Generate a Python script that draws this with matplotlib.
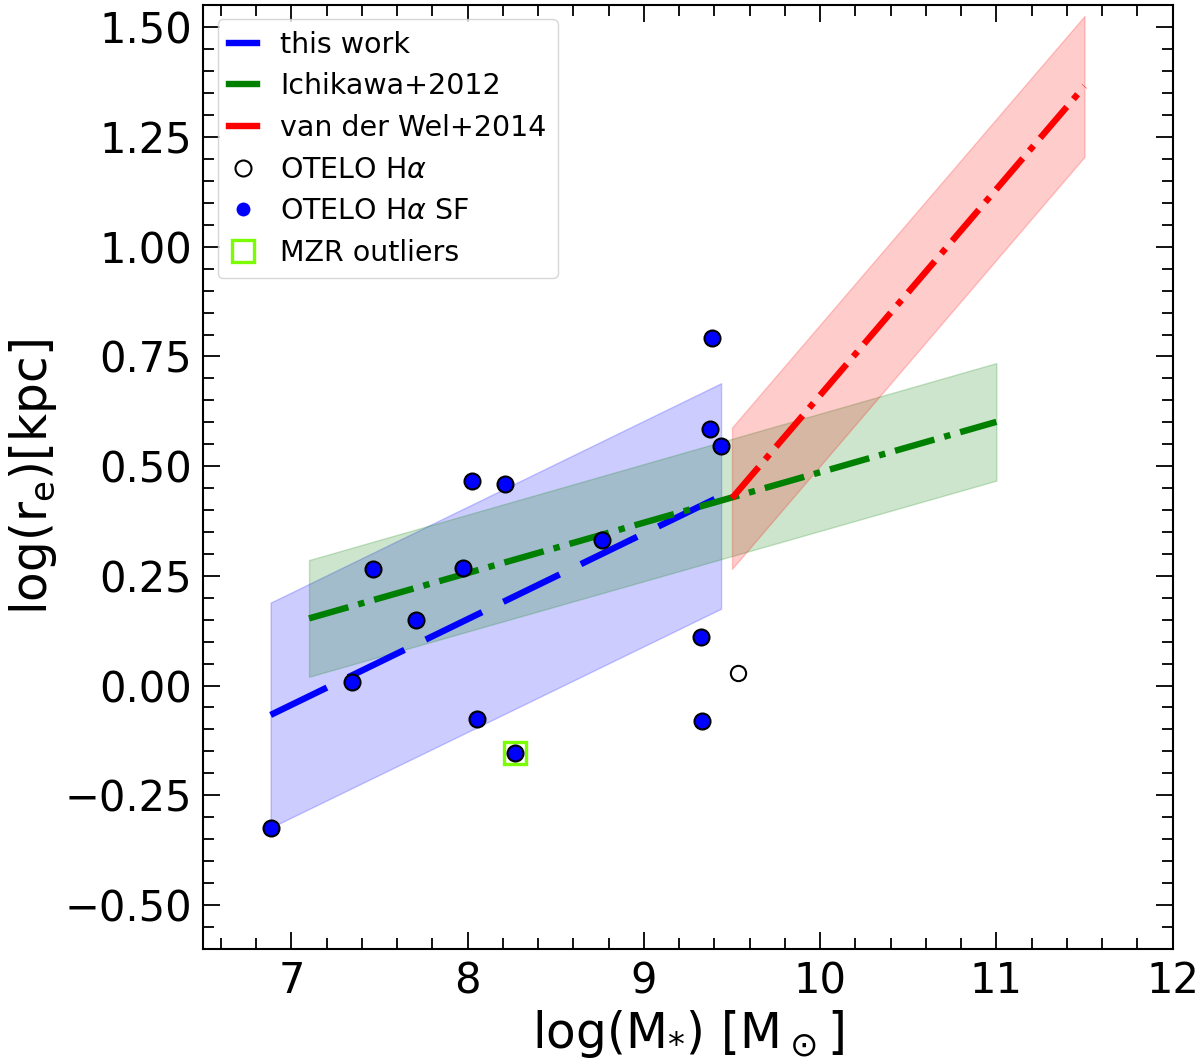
import matplotlib
matplotlib.use("Agg")
import matplotlib.pyplot as plt
from matplotlib.lines import Line2D
from matplotlib.ticker import MultipleLocator, AutoMinorLocator

# OTELO H-alpha star-forming sample: log(M*) and log(r_e)
sf_logm = [6.882, 7.344, 7.463, 7.707, 7.971, 8.027, 8.051, 8.212, 8.269,
           8.762, 9.324, 9.328, 9.386, 9.375, 9.438]
sf_logre = [-0.324, 0.007, 0.266, 0.150, 0.269, 0.467, -0.076, 0.460, -0.153,
            0.332, 0.111, -0.080, 0.793, 0.585, 0.547]
# non-SF OTELO H-alpha source
nsf_logm = [9.532]
nsf_logre = [0.029]
# MZR outliers
mzr_logm = [8.269]
mzr_logre = [-0.153]

# relations (end points) and their scatter bands
tw_x = [6.882, 9.438]
tw_y = [-0.067, 0.432]
tw_lo = [-0.324, 0.175]
tw_hi = [0.189, 0.689]

ich_x = [7.1, 11.0]
ich_y = [0.153, 0.601]
ich_lo = [0.020, 0.467]
ich_hi = [0.286, 0.735]

vdw_x = [9.5, 11.5]
vdw_y = [0.427, 1.366]
vdw_lo = [0.266, 1.205]
vdw_hi = [0.588, 1.526]

fig = plt.figure(figsize=(12, 10.63), dpi=100)
ax = fig.add_axes([0.1694, 0.1070, 0.8078, 0.8883])

ax.fill_between(tw_x, tw_lo, tw_hi, color="blue", alpha=0.2, lw=1)
ax.fill_between(ich_x, ich_lo, ich_hi, color="green", alpha=0.2, lw=1)
ax.fill_between(vdw_x, vdw_lo, vdw_hi, color="red", alpha=0.2, lw=1)

ax.plot(tw_x, tw_y, color="blue", lw=4.6, ls=(0, (9.8, 3.7)))
ax.plot(ich_x, ich_y, color="green", lw=4.6, ls="-.")
ax.plot(vdw_x, vdw_y, color="red", lw=4.6, ls="-.")

ax.plot(mzr_logm, mzr_logre, ls="none", marker="s", ms=15.6, mfc="none",
        mec="#7CFC00", mew=2.4)
ax.plot(nsf_logm, nsf_logre, ls="none", marker="o", ms=11, mfc="none",
        mec="k", mew=1.5)
ax.plot(sf_logm, sf_logre, ls="none", marker="o", ms=11.5, mfc="blue",
        mec="k", mew=1.5)

ax.set_xlim(6.5, 12)
ax.set_ylim(-0.601, 1.551)
ax.xaxis.set_major_locator(MultipleLocator(1))
ax.yaxis.set_major_locator(MultipleLocator(0.25))
ax.xaxis.set_minor_locator(AutoMinorLocator())
ax.yaxis.set_minor_locator(AutoMinorLocator())
ax.tick_params(which="both", direction="in", top=True, right=True, width=1.3)
ax.tick_params(which="major", length=12, labelsize=30, pad=8)
ax.tick_params(which="minor", length=7.7)
for s in ax.spines.values():
    s.set_linewidth(1.5)

ax.set_xlabel(r"log(M$_{*}$) [M$\,_{\odot}\,$]", fontsize=35)
ax.set_ylabel(r"log(r$_{\rm e}$)[kpc]", fontsize=35)

handles = [
    Line2D([], [], color="blue", lw=4.6),
    Line2D([], [], color="green", lw=4.6),
    Line2D([], [], color="red", lw=4.6),
    Line2D([], [], ls="none", marker="o", ms=11.5, mfc="none", mec="k", mew=1.5),
    Line2D([], [], ls="none", marker="o", ms=10, mfc="blue", mec="blue", mew=0),
    Line2D([], [], ls="none", marker="s", ms=15.6, mfc="none", mec="#7CFC00", mew=2.4),
]
labels = ["this work", "Ichikawa+2012", "van der Wel+2014",
          r"OTELO H$\alpha$", r"OTELO H$\alpha$ SF", "MZR outliers"]
ax.legend(handles, labels, loc="upper left", fontsize=20.5, handlelength=1.0,
          labelspacing=0.48)

fig.savefig("out.png", dpi=100)
